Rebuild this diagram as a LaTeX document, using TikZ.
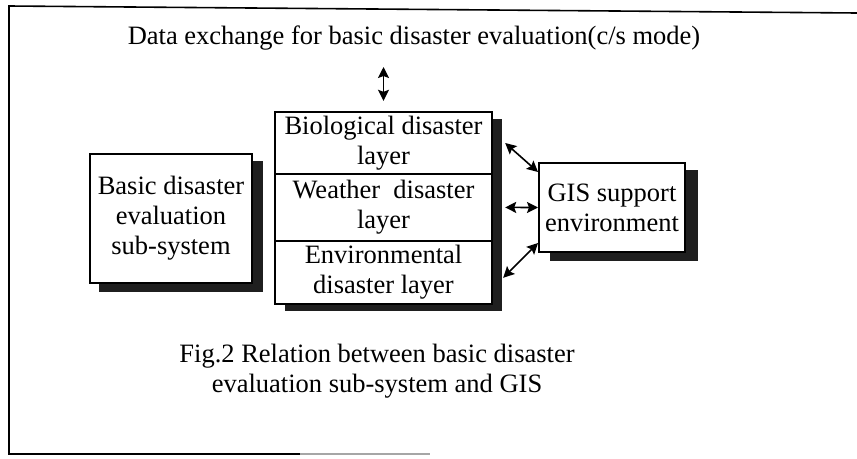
\documentclass[tikz,border=0pt]{standalone}
\usepackage{fontspec}
\setmainfont{Liberation Serif}
\usetikzlibrary{arrows.meta,calc,backgrounds}

\begin{document}
\begin{tikzpicture}[x=1pt,y=-1pt,
  every node/.style={font=\fontsize{26.5}{30}\selectfont},
  box/.style={draw=black,line width=2pt,fill=white,inner sep=0pt,align=center},
  cell/.style={inner sep=0pt,align=center,minimum width=217pt},
  shade/.style={fill=black!88},
  arr/.style={{Stealth[length=11pt,width=11pt,inset=2pt]}-{Stealth[length=11pt,width=11pt,inset=2pt]},line width=1.6pt},
  frame/.style={line width=1.6pt}]
\useasboundingbox (0,0) rectangle (857,458);

% outer frame
\draw[frame] (857,13) -- (9,6) -- (9,454) -- (300,454);
\draw[frame,black!35] (300,454) -- (430,454);

% heading and caption
\node[anchor=base] (title) at (414,44) {Data exchange for basic disaster evaluation(c/s mode)};
\node[align=center] (caption) at (377,371)
  {Fig.2 Relation between basic disaster\\evaluation sub-system and GIS};

% left block
\node[box,minimum width=162pt,minimum height=129pt] (basic) at (171,218.5)
  {Basic disaster\\evaluation\\sub-system};

% layer stack
\node[cell,minimum height=62pt] (bio) at (383.5,143)
  {Biological disaster\\layer};
\node[cell,minimum height=66pt,anchor=north] (weather) at (bio.south)
  {Weather~ disaster\\layer};
\node[cell,minimum height=63pt,anchor=north] (env) at (weather.south)
  {Environmental\\disaster layer};
\draw[line width=2pt] (bio.north west) rectangle (env.south east);
\draw[line width=2pt] (bio.south west) -- (bio.south east);
\draw[line width=2pt] (weather.south west) -- (weather.south east);

% GIS block
\node[box,minimum width=146pt,minimum height=89pt] (gis) at (612,207.5)
  {GIS support\\environment};

% drop shadows
\begin{scope}[on background layer]
  \fill[shade] ($(basic.north west)+(10,8)$) rectangle ($(basic.south east)+(10,8)$);
  \fill[shade] ($(bio.north west)+(10,7)$) rectangle ($(env.south east)+(10,7)$);
  \fill[white] (bio.north west) rectangle (env.south east);
  \fill[shade] ($(gis.north west)+(12,8)$) rectangle ($(gis.south east)+(12,8)$);
\end{scope}

% connectors
\draw[arr] ([yshift=-23pt]title.base -| bio.north) -- ([yshift=11pt]bio.north);
\draw[arr] ([xshift=13pt]bio.east) -- ([yshift=-10pt]gis.north west);
\draw[arr] ([xshift=13pt]weather.east) -- (gis.west);
\draw[arr] ([xshift=11pt,yshift=-5.5pt]env.east) -- ([yshift=10pt]gis.south west);
\end{tikzpicture}
\end{document}
